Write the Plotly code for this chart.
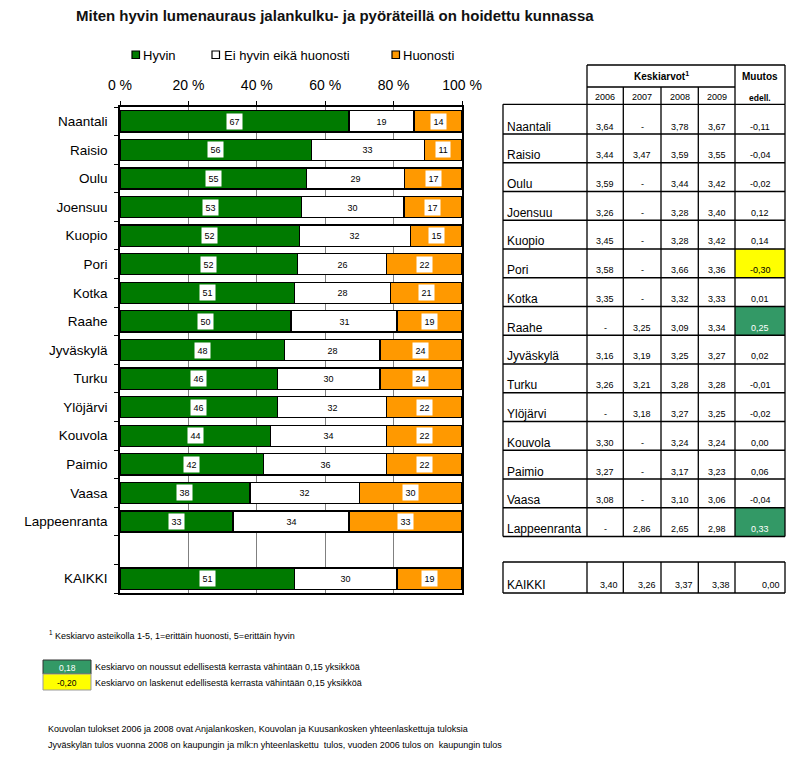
import plotly.graph_objects as go

# ---------------- data ----------------
cities = ["Naantali", "Raisio", "Oulu", "Joensuu", "Kuopio", "Pori", "Kotka", "Raahe",
          "Jyväskylä", "Turku", "Ylöjärvi", "Kouvola", "Paimio", "Vaasa", "Lappeenranta", "KAIKKI"]
hyvin = [67, 56, 55, 53, 52, 52, 51, 50, 48, 46, 46, 44, 42, 38, 33, 51]
neutraali = [19, 33, 29, 30, 32, 26, 28, 31, 28, 30, 32, 34, 36, 32, 34, 30]
huonosti = [14, 11, 17, 17, 15, 22, 21, 19, 24, 24, 22, 22, 22, 30, 33, 19]
series_names = ["Hyvin", "Ei hyvin eikä huonosti", "Huonosti"]
tick_labels = ["0 %", "20 %", "40 %", "60 %", "80 %", "100 %"]

years = ["2006", "2007", "2008", "2009"]
ka2006 = [3.64, 3.44, 3.59, 3.26, 3.45, 3.58, 3.35, None, 3.16, 3.26, None, 3.30, 3.27, 3.08, None, 3.40]
ka2007 = [None, 3.47, None, None, None, None, None, 3.25, 3.19, 3.21, 3.18, None, None, None, 2.86, 3.26]
ka2008 = [3.78, 3.59, 3.44, 3.28, 3.28, 3.66, 3.32, 3.09, 3.25, 3.28, 3.27, 3.24, 3.17, 3.10, 2.65, 3.37]
ka2009 = [3.67, 3.55, 3.42, 3.40, 3.42, 3.36, 3.33, 3.34, 3.27, 3.28, 3.25, 3.24, 3.23, 3.06, 2.98, 3.38]
muutos = [-0.11, -0.04, -0.02, 0.12, 0.14, -0.30, 0.01, 0.25, 0.02, -0.01, -0.02, 0.00, 0.06, -0.04, 0.33, 0.00]

GREEN = "#007A00"
ORANGE = "#FF9900"
CELL_GREEN = "#339966"
CELL_YELLOW = "#FFFF00"
FONT = "Liberation Sans, Arial, sans-serif"

W, H = 802, 769
def px(x): return x / W
def py(y): return 1 - y / H

# row positions: cities 0..14, blank 15, KAIKKI 16
ypos = list(range(15)) + [16]

totals = [a + b + c for a, b, c in zip(hyvin, neutraali, huonosti)]
shares = [[v / t * 100 for v, t in zip(s, totals)] for s in (hyvin, neutraali, huonosti)]
colors = [GREEN, "white", ORANGE]

fig = go.Figure()
for name, sh, col in zip(series_names, shares, colors):
    fig.add_trace(go.Bar(
        y=ypos, x=sh, orientation="h", name=name, width=0.74,
        marker=dict(color=col, line=dict(color="black", width=1.3)),
        showlegend=False, hoverinfo="skip"))

annotations = []
shapes = []

# bar value labels
for i in range(len(cities)):
    cum = 0
    for s_raw, sh in zip((hyvin, neutraali, huonosti), shares):
        c = cum + sh[i] / 2
        cum += sh[i]
        annotations.append(dict(x=c, y=ypos[i], xref="x", yref="y", text=str(s_raw[i]),
                                showarrow=False, bgcolor="white", borderpad=2.5,
                                font=dict(size=9, color="black", family=FONT)))

# title
annotations.append(dict(x=px(335), y=py(16), xref="paper", yref="paper",
                        text="<b>Miten hyvin lumenauraus jalankulku- ja pyöräteillä on hoidettu kunnassa</b>",
                        showarrow=False, xanchor="center", yanchor="middle",
                        font=dict(size=15, color="#111", family=FONT)))

# legend (manual)
leg = [(132, 141, series_names[0], GREEN), (212, 222, series_names[1], "white"),
       (392, 401, series_names[2], ORANGE)]
for sx, tx, name, col in leg:
    shapes.append(dict(type="rect", xref="paper", yref="paper", x0=px(sx), x1=px(sx + 7.5),
                       y0=py(51), y1=py(58.5), fillcolor=col, line=dict(color="black", width=1.2)))
    annotations.append(dict(x=px(tx), y=py(55), xref="paper", yref="paper", text=name,
                            showarrow=False, xanchor="left", yanchor="middle",
                            font=dict(size=13, color="black", family=FONT)))

# ---------------- table ----------------
LW = 1.3
def hline(x0, x1, y):
    shapes.append(dict(type="line", xref="paper", yref="paper", x0=px(x0), x1=px(x1),
                       y0=py(y), y1=py(y), line=dict(color="black", width=LW)))
def vline(x, y0, y1):
    shapes.append(dict(type="line", xref="paper", yref="paper", x0=px(x), x1=px(x),
                       y0=py(y0), y1=py(y1), line=dict(color="black", width=LW)))
def txt(x, y, t, size=9, anchor="center", color="black", bold=False, family=FONT):
    if bold:
        t = "<b>" + t + "</b>"
    annotations.append(dict(x=px(x), y=py(y), xref="paper", yref="paper", text=t,
                            showarrow=False, xanchor=anchor, yanchor="middle",
                            font=dict(size=size, color=color, family=family)))

cols = [503, 587, 623.3, 661, 698.3, 735, 785]
row_top0 = 104.3
row_h = 28.75
row_bottom = [134 + row_h * k for k in range(15)]
row_tops = [row_top0] + row_bottom[:-1]

def fmt(v):
    return "-" if v is None else ("%.2f" % v).replace(".", ",")

# highlighted cells
for k in range(15):
    m = muutos[k]
    fill = CELL_GREEN if m >= 0.15 else (CELL_YELLOW if m <= -0.15 else None)
    if fill:
        shapes.append(dict(type="rect", xref="paper", yref="paper", x0=px(cols[5]), x1=px(cols[6]),
                           y0=py(row_bottom[k]), y1=py(row_tops[k]), fillcolor=fill, line=dict(width=0),
                           layer="below"))

# header lines
hline(cols[1], cols[6], 65)
hline(cols[1], cols[5], 87)
for x in (cols[1], cols[5], cols[6]):
    vline(x, 65, row_top0)
for x in cols[2:5]:
    vline(x, 87, row_top0)
txt((cols[1] + cols[5]) / 2, 76, "Keskiarvot<sup>1</sup>", size=10, bold=True)
txt((cols[5] + cols[6]) / 2, 77, "Muutos", size=10, bold=True)
for j, yr in enumerate(years):
    txt((cols[1 + j] + cols[2 + j]) / 2, 97, yr, size=9)
txt((cols[5] + cols[6]) / 2, 98, "edell.", size=8.5, bold=True)

# body lines
hline(cols[0], cols[6], row_top0)
for b in row_bottom:
    hline(cols[0], cols[6], b)
for x in cols:
    vline(x, row_top0, row_bottom[-1])

vals = [ka2006, ka2007, ka2008, ka2009]
for k in range(15):
    yc = row_bottom[k] - 7.5
    txt(cols[0] + 2, yc, cities[k], size=12, anchor="left")
    for j in range(4):
        txt((cols[1 + j] + cols[2 + j]) / 2, yc, fmt(vals[j][k]), size=9)
    m = muutos[k]
    mcol = "white" if m >= 0.15 else "black"
    txt((cols[5] + cols[6]) / 2, yc, fmt(m), size=9, color=mcol)

# KAIKKI row
kt, kb = 562, 593
hline(cols[0], cols[6], kt)
hline(cols[0], cols[6], kb)
for x in cols:
    vline(x, kt, kb)
yc = kb - 8.5
k = 15
txt(cols[0] + 2, yc, cities[k], size=12, anchor="left")
for j in range(4):
    txt(cols[2 + j] - 3, yc, fmt(vals[j][k]), size=9, anchor="right")
txt(cols[6] - 3, yc, fmt(muutos[k]), size=9, anchor="right")

# ---------------- footer ----------------
FS = 9
txt(47, 635, "<sup>1</sup> Keskiarvo asteikolla 1-5, 1=erittäin huonosti, 5=erittäin hyvin", size=FS, anchor="left")
shapes.append(dict(type="rect", xref="paper", yref="paper", x0=px(43), x1=px(91), y0=py(674), y1=py(660),
                   fillcolor=CELL_GREEN, line=dict(color="#333", width=1)))
shapes.append(dict(type="rect", xref="paper", yref="paper", x0=px(43), x1=px(91), y0=py(690), y1=py(674),
                   fillcolor=CELL_YELLOW, line=dict(color="#999", width=1)))
txt(67, 667.5, "0,18", size=8.5, color="white")
txt(67, 682.5, "-0,20", size=8.5)
txt(93, 667, "Keskiarvo on noussut edellisestä kerrasta vähintään 0,15 yksikköä", size=FS, anchor="left")
txt(93, 683, "Keskiarvo on laskenut edellisestä kerrasta vähintään 0,15 yksikköä", size=FS, anchor="left")
txt(46, 729, "Kouvolan tulokset 2006 ja 2008 ovat Anjalankosken, Kouvolan ja Kuusankosken yhteenlaskettuja tuloksia",
    size=FS, anchor="left")
txt(46, 745, "Jyväskylän tulos vuonna 2008 on kaupungin ja mlk:n yhteenlaskettu  tulos, vuoden 2006 tulos on  kaupungin tulos",
    size=FS, anchor="left")

fig.update_layout(
    width=W, height=H, margin=dict(l=0, r=0, t=0, b=0, autoexpand=False),
    paper_bgcolor="white", plot_bgcolor="white",
    barmode="stack", bargap=0.26,
    font=dict(family=FONT, color="black"),
    annotations=annotations, shapes=shapes,
    xaxis=dict(domain=[px(120), px(462)], range=[0, 100], side="top", automargin=False,
               tickvals=[0, 20, 40, 60, 80, 100], ticktext=tick_labels,
               tickfont=dict(size=14, family=FONT, color="black"),
               showgrid=True, gridcolor="#808080", gridwidth=1,
               ticks="outside", ticklen=4, tickcolor="black",
               showline=True, linecolor="black", linewidth=1.5, mirror=True,
               zeroline=False, fixedrange=True, ticklabelstandoff=6),
    yaxis=dict(domain=[py(593), py(107)], range=[16.5, -0.5], automargin=False,
               tickvals=ypos, ticktext=cities, ticks="",
               tickfont=dict(size=13.5, family=FONT, color="black"),
               minor=dict(tick0=0.5, dtick=1, ticks="outside", ticklen=4, tickcolor="black", showgrid=False),
               showgrid=False, showline=True, linecolor="black", linewidth=1.5, mirror=True,
               zeroline=False, fixedrange=True, ticklabelstandoff=8),
)

fig.write_html("out.html", config={"displayModeBar": False},
               post_script="document.body.style.margin='0';document.body.style.overflow='hidden';")
